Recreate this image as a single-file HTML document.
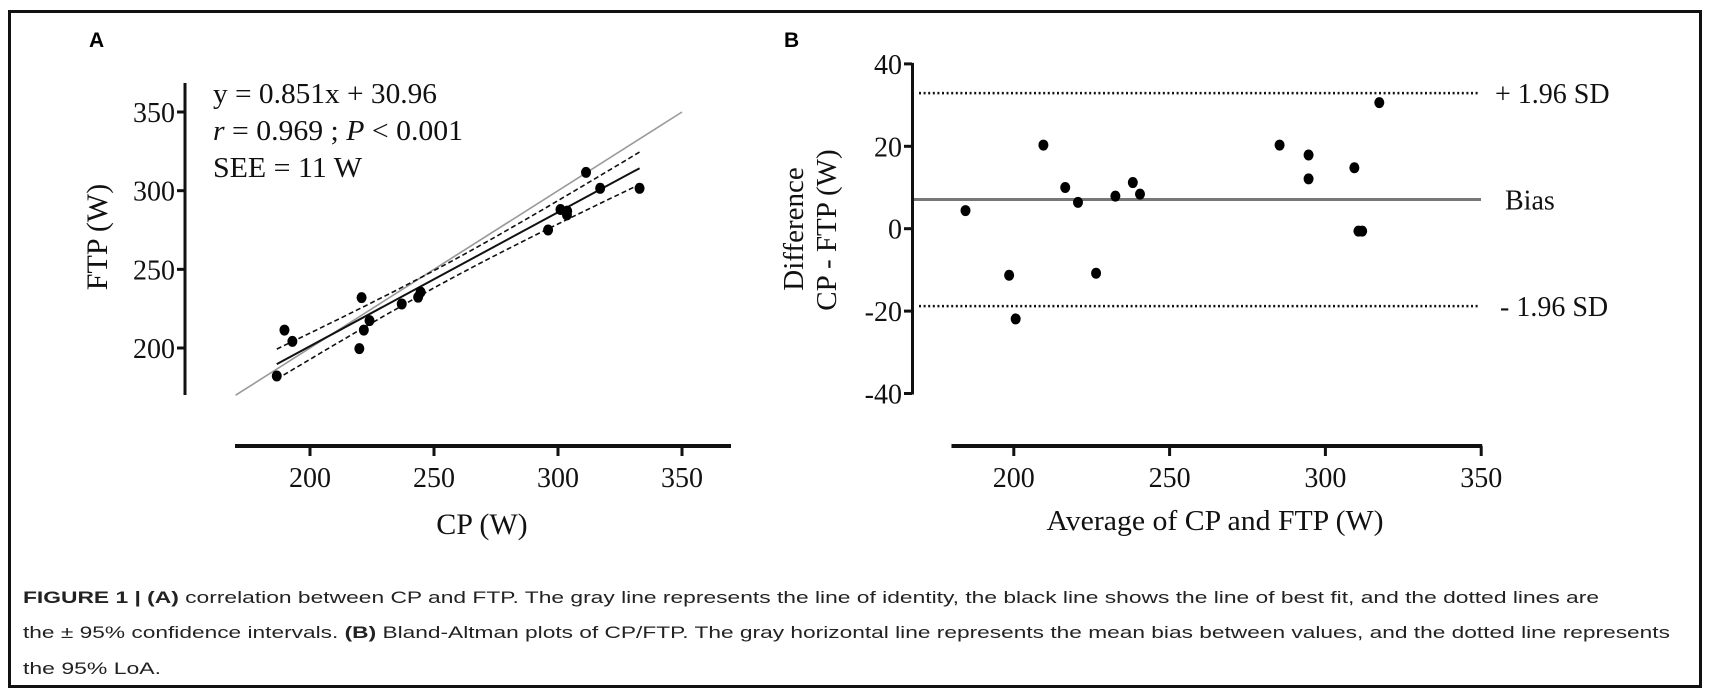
<!DOCTYPE html>
<html><head><meta charset="utf-8">
<style>
html,body{margin:0;padding:0;background:#fff;}
svg{display:block;}
</style></head>
<body>
<svg id="fig" width="1710" height="700" viewBox="0 0 1710 700" xmlns="http://www.w3.org/2000/svg">
  <rect x="9.5" y="11.5" width="1691" height="675" fill="#fff" stroke="#111" stroke-width="3"/>
  <text x="89" y="47" font-family="Liberation Sans, sans-serif" font-weight="bold" font-size="21">A</text>
  <text x="784" y="47" font-family="Liberation Sans, sans-serif" font-weight="bold" font-size="21">B</text>
  <g id="panelA"></g>
  <g id="panelB"></g>
  <g font-family="Liberation Sans, sans-serif" font-size="17" fill="#222">
    <text x="23" y="603" textLength="1576" lengthAdjust="spacingAndGlyphs"><tspan font-weight="bold">FIGURE 1 | (A)</tspan> correlation between CP and FTP. The gray line represents the line of identity, the black line shows the line of best fit, and the dotted lines are</text>
    <text x="23" y="638" textLength="1647" lengthAdjust="spacingAndGlyphs">the ± 95% confidence intervals. <tspan font-weight="bold">(B)</tspan> Bland-Altman plots of CP/FTP. The gray horizontal line represents the mean bias between values, and the dotted line represents</text>
    <text x="23" y="674" textLength="138" lengthAdjust="spacingAndGlyphs">the 95% LoA.</text>
  </g>
</svg>
<script>
// ---- Panel A data ----
const cpValues  = [186.6,189.7,192.9,219.9,220.8,221.7,224.0,237.0,243.6,244.6,296.0,301.0,303.6,303.7,311.3,317.0,332.9];
const ftpValues = [182.2,211.4,204.2,199.6,232.0,211.4,217.4,228.0,232.3,235.5,275.0,288.0,284.6,287.0,311.6,301.5,301.5];
const fitSlope = [0.851];
const fitIntercept = [30.96];
const identityRange = [170, 350];
const xTicksA = [200, 250, 300, 350];
const yTicksA = [200, 250, 300, 350];
// ---- Panel B data ----
const avgValues  = [184.5,198.5,200.6,209.5,216.5,220.6,226.4,232.6,238.2,240.5,285.3,294.6,294.6,309.3,310.6,311.8,317.3];
const diffValues = [4.4,-11.3,-21.9,20.3,10.0,6.4,-10.8,7.9,11.2,8.4,20.3,17.9,12.1,14.8,-0.6,-0.6,30.6];
const biasValue = [7.1];
const upperLoA = [32.9];
const lowerLoA = [-18.8];
const xTicksB = [200, 250, 300, 350];
const yTicksB = [40, 20, 0, -20, -40];

const NS = 'http://www.w3.org/2000/svg';
function mk(parent, tag, attrs, txt){
  const e = document.createElementNS(NS, tag);
  for (const k in attrs) e.setAttribute(k, attrs[k]);
  if (txt !== undefined) e.textContent = txt;
  parent.appendChild(e);
  return e;
}
const serif = 'Liberation Serif, serif';

// ---------- Panel A ----------
const gA = document.getElementById('panelA');
const xA = v => 310 + (v - 200) * (372 / 150);
const yA = v => 348 - (v - 200) * (236 / 150);

let el = mk(gA, 'line', {x1:185, y1:83, x2:185, y2:395, stroke:'#111', 'stroke-width':3});


el = mk(gA, 'line', {x1:235, y1:446, x2:731, y2:446, stroke:'#111', 'stroke-width':4});


yTicksA.forEach(t => {
  const y = yA(t);
  let k = mk(gA, 'line', {x1:177, y1:y, x2:185, y2:y, stroke:'#111', 'stroke-width':3});
  
  
  let l = mk(gA, 'text', {x:175, y:y + 10, 'text-anchor':'end', 'font-family':serif, 'font-size':28, fill:'#111'}, String(t));
  
  
});
xTicksA.forEach(t => {
  const x = xA(t);
  let k = mk(gA, 'line', {x1:x, y1:446, x2:x, y2:456, stroke:'#111', 'stroke-width':3});
  
  
  let l = mk(gA, 'text', {x:x, y:487, 'text-anchor':'middle', 'font-family':serif, 'font-size':28, fill:'#111'}, String(t));
  
  
});
el = mk(gA, 'text', {x:482, y:534, 'text-anchor':'middle', 'font-family':serif, 'font-size':30, fill:'#111'}, 'CP (W)');


el = mk(gA, 'text', {x:0, y:0, 'text-anchor':'middle', 'font-family':serif, 'font-size':30, fill:'#111', transform:'translate(107,237) rotate(-90)'}, 'FTP (W)');



const eq = mk(gA, 'g', {'font-family':serif, 'font-size':28, fill:'#111'});


mk(eq, 'text', {x:213, y:103, textLength:224, lengthAdjust:'spacingAndGlyphs'}, 'y = 0.851x + 30.96');
const t2 = mk(eq, 'text', {x:213, y:140, textLength:250, lengthAdjust:'spacingAndGlyphs'});
mk(t2, 'tspan', {'font-style':'italic'}, 'r');
mk(t2, 'tspan', {}, ' = 0.969 ; ');
mk(t2, 'tspan', {'font-style':'italic'}, 'P');
mk(t2, 'tspan', {}, '  < 0.001');
mk(eq, 'text', {x:213, y:177, textLength:149, lengthAdjust:'spacingAndGlyphs'}, 'SEE = 11 W');

el = mk(gA, 'line', {x1:xA(identityRange[0]), y1:yA(identityRange[0]), x2:xA(identityRange[1]), y2:yA(identityRange[1]), stroke:'#999', 'stroke-width':1.6});



const n = cpValues.length;
const xmin = Math.min(...cpValues), xmax = Math.max(...cpValues);
const mx = cpValues.reduce((a,b)=>a+b,0)/n;
const fit = x => fitSlope[0]*x + fitIntercept[0];
let sse = 0, sxx = 0;
for (let i=0;i<n;i++){ sse += (ftpValues[i]-fit(cpValues[i]))**2; sxx += (cpValues[i]-mx)**2; }
const s = Math.sqrt(sse/(n-2)), tcrit = 2.131;
const half = x => tcrit * s * Math.sqrt(1/n + (x-mx)**2/sxx);
el = mk(gA, 'line', {x1:xA(xmin), y1:yA(fit(xmin)), x2:xA(xmax), y2:yA(fit(xmax)), stroke:'#111', 'stroke-width':2});


['upper','lower'].forEach((nm, j) => {
  const sign = j === 0 ? 1 : -1;
  let d = '';
  for (let k=0;k<=40;k++){
    const x = xmin + (xmax-xmin)*k/40;
    d += (k?'L':'M') + xA(x).toFixed(1) + ',' + yA(fit(x)+sign*half(x)).toFixed(1);
  }
  const p = mk(gA, 'path', {d:d, fill:'none', stroke:'#111', 'stroke-width':1.6, 'stroke-dasharray':'5,3'});
  
  
});
cpValues.forEach((v, i) => {
  const c = mk(gA, 'ellipse', {cx:xA(v), cy:yA(ftpValues[i]), rx:5, ry:5.5, fill:'#000'});
  
  
});

// ---------- Panel B ----------
const gB = document.getElementById('panelB');
const xB = v => 1013.8 + (v - 200) * (155.8 / 50);
const yB = v => 228.7 - v * 4.12;
el = mk(gB, 'line', {x1:912.5, y1:yB(40)-1, x2:912.5, y2:yB(-40)+1, stroke:'#111', 'stroke-width':3});


el = mk(gB, 'line', {x1:xB(180), y1:446, x2:xB(350)+1, y2:446, stroke:'#111', 'stroke-width':4});


yTicksB.forEach(t => {
  const y = yB(t);
  let k = mk(gB, 'line', {x1:904, y1:y, x2:912, y2:y, stroke:'#111', 'stroke-width':3});
  
  
  let l = mk(gB, 'text', {x:902, y:y + 10, 'text-anchor':'end', 'font-family':serif, 'font-size':28, fill:'#111'}, String(t));
  
  
});
xTicksB.forEach(t => {
  const x = xB(t);
  let k = mk(gB, 'line', {x1:x, y1:446, x2:x, y2:456, stroke:'#111', 'stroke-width':3});
  
  
  let l = mk(gB, 'text', {x:x, y:487, 'text-anchor':'middle', 'font-family':serif, 'font-size':28, fill:'#111'}, String(t));
  
  
});
el = mk(gB, 'text', {x:1215, y:530, 'text-anchor':'middle', 'font-family':serif, 'font-size':29, fill:'#111', textLength:337, lengthAdjust:'spacingAndGlyphs'}, 'Average of  CP and FTP (W)');


el = mk(gB, 'text', {x:0, y:0, 'text-anchor':'middle', 'font-family':serif, 'font-size':29, fill:'#111', transform:'translate(803,229) rotate(-90)'}, 'Difference');


el = mk(gB, 'text', {x:0, y:0, 'text-anchor':'middle', 'font-family':serif, 'font-size':29, fill:'#111', transform:'translate(836,230) rotate(-90)'}, 'CP - FTP (W)');



el = mk(gB, 'line', {x1:919, y1:yB(upperLoA[0]), x2:1479, y2:yB(upperLoA[0]), stroke:'#111', 'stroke-width':2.5, 'stroke-dasharray':'2,2.6'});


el = mk(gB, 'line', {x1:919, y1:yB(lowerLoA[0]), x2:1479, y2:yB(lowerLoA[0]), stroke:'#111', 'stroke-width':2.5, 'stroke-dasharray':'2,2.6'});


el = mk(gB, 'line', {x1:914, y1:yB(biasValue[0]), x2:1481, y2:yB(biasValue[0]), stroke:'#777', 'stroke-width':3});


el = mk(gB, 'text', {x:1495, y:yB(upperLoA[0]) + 10, 'font-family':serif, 'font-size':28, fill:'#111'}, '+ 1.96 SD');


el = mk(gB, 'text', {x:1505, y:yB(biasValue[0]) + 10, 'font-family':serif, 'font-size':28, fill:'#111'}, 'Bias');


el = mk(gB, 'text', {x:1500, y:yB(lowerLoA[0]) + 10, 'font-family':serif, 'font-size':28, fill:'#111'}, '- 1.96 SD');


avgValues.forEach((v, i) => {
  const c = mk(gB, 'ellipse', {cx:xB(v), cy:yB(diffValues[i]), rx:5, ry:5.5, fill:'#000'});
  
  
});
</script>
</body></html>
